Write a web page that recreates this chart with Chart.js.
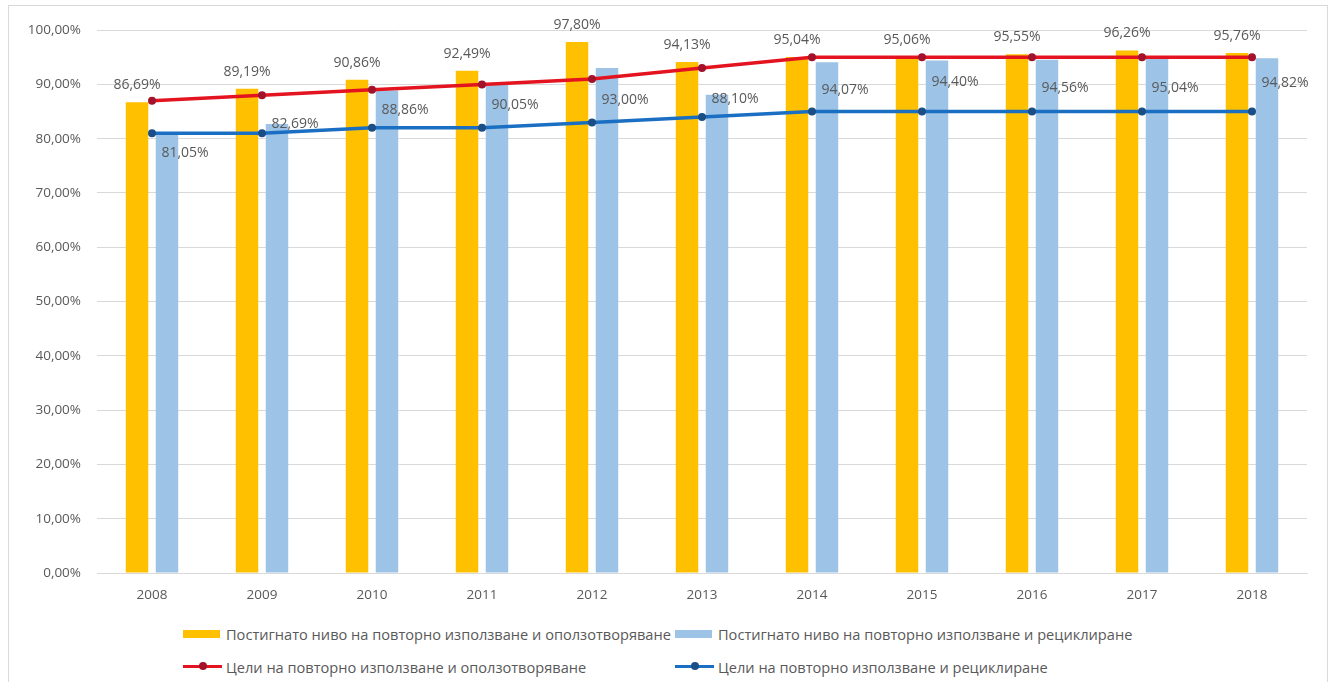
<!DOCTYPE html>
<html>
<head>
<meta charset="utf-8">
<script src="https://cdn.jsdelivr.net/npm/chart.js@4.4.1/dist/chart.umd.min.js"></script>
<style>
  html, body { margin: 0; padding: 0; background: #fff; overflow: hidden; }
  #frame { position: absolute; left: 8px; top: 5px; width: 1318px; height: 700px; border: 1px solid #d9d9d9; }
  #wrap { position: absolute; left: 0; top: 0; width: 1318px; height: 606px; }
  #legend { position: absolute; left: 174px; top: 618px; display: grid; grid-template-columns: 492px auto; row-gap: 13px;
            font-family: "Open Sans", sans-serif; font-size: 14.6px; color: #595959; }
  .item { display: flex; align-items: center; height: 20px; white-space: nowrap; }
  .sym { position: relative; width: 39px; height: 20px; margin-right: 4px; flex: none; }
  .box { position: absolute; left: 0; top: 6px; width: 37px; height: 8px; }
  .line { position: absolute; left: 0; top: 8px; width: 39px; height: 3px; }
  .dot { position: absolute; left: 16px; top: 5px; width: 8px; height: 8px; border-radius: 50%; }
</style>
</head>
<body>
<div id="frame">
  <div id="wrap"><canvas id="myChart"></canvas></div>
  <div id="legend"></div>
</div>
<script>
const years = ['2008', '2009', '2010', '2011', '2012', '2013', '2014', '2015', '2016', '2017', '2018'];

// постигнати нива (%)
const reachedRecovery = [86.69, 89.19, 90.86, 92.49, 97.80, 94.13, 95.04, 95.06, 95.55, 96.26, 95.76];
const reachedRecycling = [81.05, 82.69, 88.86, 90.05, 93.00, 88.10, 94.07, 94.40, 94.56, 95.04, 94.82];

// цели (%)
const targetRecovery = [87, 88, 89, 90, 91, 93, 95, 95, 95, 95, 95];
const targetRecycling = [81, 81, 82, 82, 83, 84, 85, 85, 85, 85, 85];

const names = [
  'Постигнато ниво на повторно използване и оползотворяване',
  'Постигнато ниво на повторно използване и рециклиране',
  'Цели на повторно използване и оползотворяване',
  'Цели на повторно използване и рециклиране'
];

// how far (px) the recycling labels sit below the top of their bar
const recyclingLabelDrop = [20, 0, 19, 21, 32, 4, 28, 22, 28, 31, 25];

const grey = '#595959';
const fmt = v => v.toFixed(2).replace('.', ',') + '%';

const valueLabels = {
  id: 'valueLabels',
  afterDatasetsDraw(chart) {
    const c = chart.ctx;
    c.save();
    c.font = '14px "Open Sans"';
    c.fillStyle = grey;
    c.textAlign = 'center';
    c.textBaseline = 'middle';
    chart.getDatasetMeta(0).data.forEach((bar, i) => {
      c.fillText(fmt(reachedRecovery[i]), bar.x, bar.y - 17);
    });
    chart.getDatasetMeta(1).data.forEach((bar, i) => {
      c.fillText(fmt(reachedRecycling[i]), bar.x + 18, bar.y + recyclingLabelDrop[i]);
    });
    c.restore();
  }
};

const ctx = document.getElementById('myChart');

const chart = new Chart(ctx, {
  type: 'bar',
  data: {
    labels: years,
    datasets: [
      { type: 'bar', label: names[0], data: reachedRecovery, backgroundColor: '#FFC000',
        categoryPercentage: 0.545, barPercentage: 0.75, order: 2 },
      { type: 'bar', label: names[1], data: reachedRecycling, backgroundColor: '#9DC3E6',
        categoryPercentage: 0.545, barPercentage: 0.75, order: 2 },
      { type: 'line', label: names[2], data: targetRecovery, borderColor: '#E3141F', borderWidth: 3.5,
        pointRadius: 4, pointBackgroundColor: '#A3122A', pointBorderWidth: 0, order: 1 },
      { type: 'line', label: names[3], data: targetRecycling, borderColor: '#1B6FC2', borderWidth: 3.5,
        pointRadius: 4, pointBackgroundColor: '#1A4E86', pointBorderWidth: 0, order: 1 }
    ]
  },
  options: {
    responsive: true,
    maintainAspectRatio: false,
    animation: false,
    layout: { padding: { left: 0, right: 20, top: 21, bottom: 0 } },
    plugins: { legend: { display: false }, tooltip: { enabled: false } },
    scales: {
      x: {
        grid: { display: false },
        border: { display: true, color: '#d9d9d9' },
        ticks: { color: grey, font: { family: 'Open Sans', size: 13.5 }, padding: 6 },
        afterFit: s => { s.height = 39; }
      },
      y: {
        min: 0, max: 100,
        grid: { color: '#d9d9d9', drawTicks: false },
        border: { display: false },
        ticks: { stepSize: 10, color: grey, font: { family: 'Open Sans', size: 13.5 }, padding: 16,
                 callback: v => fmt(v) },
        afterFit: s => { s.width = 88; }
      }
    }
  },
  plugins: [valueLabels]
});

// легенда в две колони
const legend = document.getElementById('legend');
chart.data.datasets.forEach(ds => {
  const item = document.createElement('div');
  item.className = 'item';
  const sym = document.createElement('span');
  sym.className = 'sym';
  if (ds.type === 'bar') {
    sym.innerHTML = '<span class="box" style="background:' + ds.backgroundColor + '"></span>';
  } else {
    sym.innerHTML = '<span class="line" style="background:' + ds.borderColor + '"></span>' +
                    '<span class="dot" style="background:' + ds.pointBackgroundColor + '"></span>';
  }
  item.appendChild(sym);
  item.appendChild(document.createTextNode(ds.label));
  legend.appendChild(item);
});
</script>
</body>
</html>
